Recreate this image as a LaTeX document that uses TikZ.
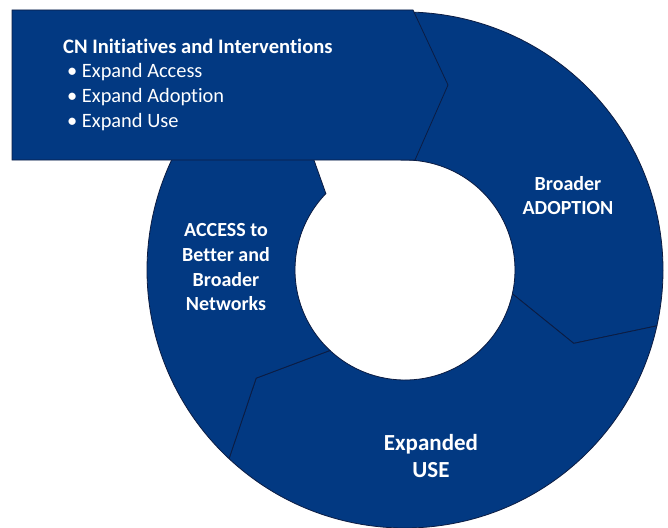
\documentclass[tikz,border=0pt]{standalone}
\usepackage{fontspec}
\setmainfont{Carlito}[Ligatures=NoCommon]
\definecolor{ringblue}{RGB}{2,57,130}
\definecolor{edgeblue}{RGB}{12,28,66}
\begin{document}
\begin{tikzpicture}[x=1pt,y=-1pt,
  seg/.style={fill=ringblue, draw=edgeblue, line width=0.8pt, line join=miter},
  lbl/.style={text=white, font=\bfseries\fontsize{20}{24}\selectfont, anchor=base, inner sep=0pt},
  big/.style={text=white, font=\bfseries\fontsize{23}{27}\selectfont, anchor=base, inner sep=0pt},
  boxtitle/.style={text=white, font=\bfseries\fontsize{20.6}{24}\selectfont, anchor=base west, inner sep=0pt},
  boxitem/.style={text=white, font=\fontsize{20.4}{24}\selectfont, anchor=base west, inner sep=0pt}]
\useasboundingbox (0,0) rectangle (668,527);
\begin{scope}[shift={(405,270)}]
  % Broader ADOPTION segment
  \path[seg] (268:110) arc[start angle=268, end angle=372.5, radius=110]
     -- (383.5:184) -- (372.5:258) arc[start angle=372.5, end angle=268, radius=258]
     -- (279:184) -- cycle;
  % Expanded USE segment
  \path[seg] (12.5:110) arc[start angle=12.5, end angle=133, radius=110]
     -- (144:184) -- (133:258) arc[start angle=133, end angle=12.5, radius=258]
     -- (23.5:184) -- cycle;
  % ACCESS segment
  \path[seg] (133:110) arc[start angle=133, end angle=224, radius=110]
     -- (235:184) -- (224:258) arc[start angle=224, end angle=133, radius=258]
     -- (144:184) -- cycle;
\end{scope}
% Initiatives arrow box
\path[seg] (12,10) -- (413,10) -- (448,85) -- (415,160) -- (12,160) -- cycle;
\node[boxtitle] (title) at (63,53) {CN Initiatives and Interventions};
\node[boxitem] (item1) at (67,77.5) {\textbullet\ Expand Access};
\node[boxitem] (item2) at (67,102.2) {\textbullet\ Expand Adoption};
\node[boxitem] (item3) at (67,127) {\textbullet\ Expand Use};
% Ring labels
\node[lbl] (adopt1) at (568,190) {Broader};
\node[lbl] (adopt2) at (568,214.5) {ADOPTION};
\node[lbl] (access1) at (226,236) {ACCESS to};
\node[lbl] (access2) at (226,261) {Better and};
\node[lbl] (access3) at (226,286) {Broader};
\node[lbl] (access4) at (226,310) {Networks};
\node[big] (use1) at (431,450) {Expanded};
\node[big] (use2) at (431,477) {USE};
\end{tikzpicture}
\end{document}
